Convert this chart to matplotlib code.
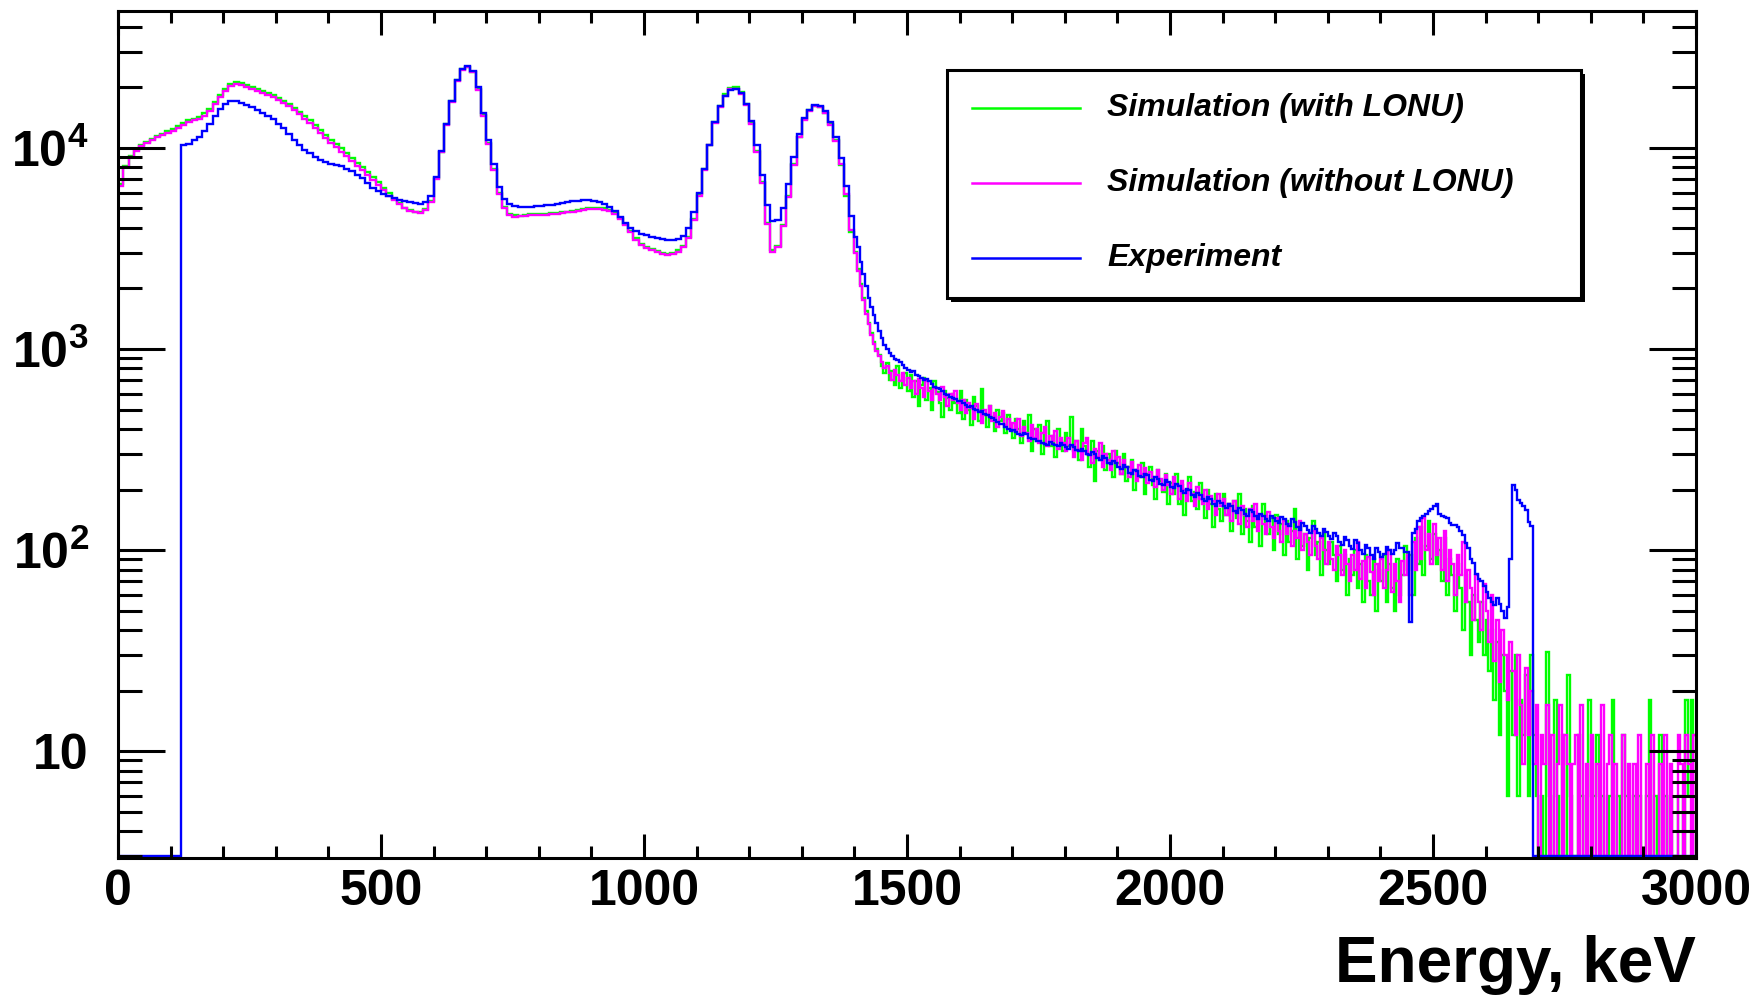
import numpy as np
import matplotlib
matplotlib.use("Agg")
import matplotlib.pyplot as plt
from matplotlib.ticker import FixedLocator, MultipleLocator, LogLocator, NullFormatter
from matplotlib.patches import Rectangle
from matplotlib.lines import Line2D

# ---------------- data (counts per bin) -------------
# 0-1400 keV in 10 keV bins, 1400-3000 keV in 5 keV bins
low_bin_width_kev = 10
high_bin_width_kev = 5
split_energy_kev = 1400
energy_max_kev = 3000

sim_with_lonu_low = [
    6600, 8100, 9100, 9800, 10300, 10700, 11100, 11500, 11800, 12100,
    12400, 12900, 13300, 13700, 14000, 14300, 14900, 15700, 16900, 18400,
    19700, 20700, 21200, 21000, 20500, 20100, 19700, 19200, 18800, 18300,
    17700, 17100, 16500, 15800, 15100, 14400, 13700, 13000, 12300, 11600,
    11000, 10500, 9950, 9450, 8900, 8450, 8000, 7600, 7150, 6750,
    6300, 5950, 5600, 5300, 5050, 4900, 4800, 4780, 4950, 5450,
    7100, 9600, 13100, 17200, 21700, 24800, 25400, 23900, 19600, 14600,
    10600, 7900, 6000, 5100, 4700, 4620, 4600, 4650, 4680, 4700,
    4720, 4700, 4740, 4760, 4800, 4820, 4880, 4920, 4980, 5000,
    5000, 5020, 5000, 4900, 4750, 4500, 4200, 3850, 3560, 3340,
    3220, 3140, 3060, 3000, 2980, 3000, 3100, 3250, 3600, 4450,
    5900, 7900, 10400, 13400, 16200, 18500, 19900, 20100, 18900, 16600,
    13300, 9700, 6800, 4250, 3100, 3250, 4150, 5800, 8300, 11400,
    13900, 15400, 16200, 16000, 15000, 13100, 10900, 8200, 5800, 3800,
]
sim_with_lonu_high = [
    3050, 2500, 2100, 1800, 1550, 1350, 1200, 1080, 1000, 930, 820, 760, 850, 700, 780, 660, 820, 640, 700, 760,
    620, 740, 580, 690, 520, 660, 720, 560, 640, 500, 690, 610, 540, 460, 620, 570, 500, 600, 540, 480,
    620, 450, 560, 500, 420, 580, 520, 440, 630, 470, 410, 520, 460, 390, 500, 440, 480, 380, 470, 420,
    360, 450, 400, 340, 440, 380, 470, 310, 400, 350, 420, 300, 380, 440, 330, 370, 290, 400, 350, 310,
    380, 330, 460, 310, 350, 280, 400, 330, 300, 260, 350, 220, 310, 280, 330, 250, 300, 270, 230, 310,
    270, 240, 300, 220, 260, 280, 200, 250, 230, 270, 190, 240, 260, 210, 180, 250, 220, 195, 240, 170,
    215, 190, 240, 170, 210, 150, 200, 230, 175, 195, 160, 215, 180, 145, 200, 170, 130, 190, 160, 140,
    190, 150, 170, 125, 175, 145, 190, 120, 160, 140, 110, 165, 130, 150, 105, 170, 135, 120, 145, 100,
    150, 120, 135, 95, 140, 110, 125, 160, 90, 130, 105, 120, 80, 115, 140, 95, 110, 75, 120, 100,
    85, 110, 95, 70, 105, 80, 95, 60, 90, 75, 100, 65, 85, 55, 95, 70, 60, 90, 50, 80,
    70, 95, 55, 85, 65, 50, 90, 60, 75, 105, 80, 95, 60, 115, 85, 130, 75, 105, 140, 90,
    120, 85, 100, 70, 115, 60, 90, 75, 50, 85, 65, 40, 75, 55, 30, 60, 45, 35, 55, 30,
    45, 25, 40, 18, 35, 12, 30, 20, 6, 25, 12, 30, 6, 18, 12, 24, 6, 30, 12, 6,
    3, 6, 3, 31, 6, 3, 18, 6, 3, 12, 3, 24, 6, 3, 3, 12, 6, 3, 6, 18,
    3, 6, 12, 3, 6, 3, 3, 6, 18, 3, 6, 3, 12, 6, 3, 3, 6, 3, 6, 3,
    3, 6, 18, 3, 6, 3, 12, 3, 6, 3, 6, 3, 3, 6, 6, 3, 18, 6, 18, 12,
]

sim_without_lonu_low = [
    6500, 8000, 9000, 9700, 10200, 10600, 11000, 11300, 11600, 11900,
    12200, 12600, 13000, 13400, 13700, 14000, 14500, 15300, 16500, 18000,
    19300, 20300, 20800, 20600, 20100, 19700, 19300, 18800, 18400, 17900,
    17300, 16700, 16100, 15400, 14700, 14000, 13300, 12600, 11900, 11200,
    10600, 10100, 9600, 9100, 8600, 8150, 7750, 7350, 6950, 6550,
    6150, 5800, 5500, 5250, 5000, 4880, 4780, 4750, 4900, 5400,
    7000, 9500, 13000, 17000, 21500, 24500, 25200, 23800, 19500, 14500,
    10500, 7800, 5900, 5000, 4650, 4550, 4580, 4600, 4620, 4640,
    4650, 4660, 4680, 4700, 4740, 4780, 4830, 4880, 4930, 4950,
    4950, 4950, 4920, 4850, 4700, 4450, 4150, 3800, 3500, 3300,
    3180, 3100, 3030, 2970, 2940, 2960, 3050, 3200, 3550, 4400,
    5800, 7800, 10300, 13300, 16000, 18200, 19600, 19700, 18600, 16400,
    13200, 9600, 6700, 4200, 3050, 3200, 4100, 5700, 8200, 11300,
    13800, 15300, 16100, 15900, 14900, 13000, 10800, 8300, 5900, 3900,
]
sim_without_lonu_high = [
    3000, 2450, 2050, 1750, 1500, 1330, 1180, 1060, 980, 920, 860, 800, 820, 760, 700, 790, 740, 690, 760, 660,
    720, 640, 690, 600, 710, 640, 580, 690, 620, 560, 640, 600, 560, 650, 580, 520, 600, 560, 620, 540,
    500, 560, 480, 540, 510, 450, 530, 490, 430, 500, 470, 520, 440, 480, 410, 460, 490, 420, 450, 400,
    430, 390, 450, 370, 410, 380, 350, 420, 360, 400, 340, 380, 410, 330, 370, 350, 390, 320, 360, 340,
    310, 360, 330, 290, 350, 315, 280, 340, 360, 300, 270, 320, 290, 340, 260, 300, 280, 250, 310, 270,
    290, 240, 280, 260, 230, 275, 250, 220, 265, 240, 255, 215, 245, 230, 205, 250, 225, 200, 235, 210,
    190, 230, 210, 180, 220, 200, 175, 215, 190, 165, 205, 180, 170, 200, 160, 185, 175, 150, 190, 165,
    180, 150, 170, 140, 175, 155, 135, 165, 150, 130, 160, 140, 170, 125, 150, 135, 120, 155, 130, 115,
    145, 125, 110, 140, 120, 135, 105, 125, 115, 140, 100, 120, 110, 95, 125, 105, 90, 115, 100, 85,
    110, 90, 80, 105, 95, 75, 100, 85, 70, 95, 80, 110, 72, 88, 65, 92, 78, 60, 85, 70,
    90, 65, 80, 100, 62, 85, 70, 55, 88, 75, 95, 60, 110, 80, 130, 90, 145, 100, 120, 85,
    135, 95, 115, 80, 125, 70, 100, 85, 60, 95, 75, 110, 55, 80, 65, 45, 75, 55, 40, 68,
    50, 35, 60, 28, 45, 22, 40, 30, 18, 35, 25, 12, 30, 17, 8.6, 26, 12, 20, 8.6, 17,
    3, 12, 8.6, 17, 3, 12, 3, 8.6, 17, 3, 12, 8.6, 3, 8.6, 12, 3, 17, 3, 8.6, 3,
    12, 3, 8.6, 3, 17, 3, 8.6, 12, 3, 8.6, 3, 3, 12, 3, 8.6, 3, 8.6, 3, 12, 3,
    3, 8.6, 3, 12, 3, 3, 8.6, 3, 12, 3, 8.6, 3, 3, 12, 8.6, 3, 12, 8.6, 3, 12,
]

experiment_low = [
    3, 3, 3, 3, 3, 3, 3, 3, 3, 3,
    3, 3, 10300, 10500, 10900, 11300, 12100, 13200, 14500, 15700,
    16600, 17100, 17200, 16800, 16300, 15900, 15500, 15000, 14500, 13900,
    13200, 12500, 11800, 11000, 10300, 9800, 9400, 9000, 8700, 8500,
    8350, 8250, 8100, 7900, 7650, 7350, 7050, 6700, 6350, 6100,
    5900, 5750, 5620, 5530, 5470, 5400, 5300, 5280, 5400, 5800,
    7200, 9700, 13200, 17200, 21700, 24800, 25500, 24200, 20000, 15000,
    11000, 8300, 6400, 5600, 5250, 5150, 5100, 5080, 5100, 5130,
    5160, 5200, 5230, 5280, 5330, 5370, 5420, 5450, 5500, 5500,
    5450, 5380, 5280, 5100, 4850, 4550, 4250, 4000, 3850, 3750,
    3680, 3620, 3570, 3540, 3500, 3490, 3530, 3650, 4000, 4800,
    6000, 7900, 10400, 13400, 16100, 18200, 19500, 19700, 18700, 16600,
    13600, 10400, 7300, 5200, 4350, 4400, 5000, 6600, 9000, 11800,
    14100, 15500, 16300, 16100, 15200, 13500, 11400, 8900, 6500, 4600,
]
experiment_high = [
    3600, 3200, 2700, 2350, 2050, 1800, 1620, 1480, 1350, 1230, 1130, 1050, 1000, 950, 920, 890, 880, 860, 830, 800,
    790, 770, 775, 745, 735, 720, 700, 710, 690, 670, 650, 640, 635, 620, 600, 590, 580, 570, 565, 552,
    550, 540, 525, 515, 520, 505, 495, 485, 490, 475, 470, 460, 455, 445, 432, 425, 422, 410, 400, 392,
    395, 388, 378, 372, 380, 376, 362, 355, 356, 348, 350, 340, 338, 333, 345, 338, 332, 328, 340, 335,
    325, 320, 332, 326, 315, 310, 318, 312, 302, 298, 308, 300, 288, 282, 292, 286, 272, 268, 278, 272,
    258, 252, 264, 258, 242, 238, 250, 246, 234, 230, 240, 236, 224, 220, 230, 226, 214, 210, 222, 218,
    206, 203, 212, 208, 196, 193, 202, 198, 187, 184, 192, 188, 179, 176, 184, 180, 170, 166, 176, 172,
    165, 161, 170, 166, 157, 153, 162, 158, 152, 148, 158, 154, 147, 143, 152, 148, 143, 139, 148, 144,
    140, 136, 146, 142, 135, 131, 142, 138, 130, 126, 136, 132, 126, 122, 132, 128, 122, 118, 127, 123,
    117, 113, 122, 118, 110, 106, 116, 112, 105, 101, 112, 108, 100, 96, 106, 102, 94, 90, 102, 98,
    92, 96, 104, 100, 96, 100, 108, 102, 102, 98, 98, 44, 122, 128, 140, 144, 148, 152, 156, 160,
    166, 170, 152, 148, 146, 144, 137, 133, 134, 130, 125, 119, 108, 102, 90, 86, 76, 72, 70, 66,
    62, 58, 55, 53, 58, 54, 50, 46, 52, 90, 210, 200, 178, 172, 165, 159, 138, 132, 3, 3,
    3, 3, 3, 3, 3, 3, 3, 3, 3, 3, 3, 3, 3, 3, 3, 3, 3, 3, 3, 3,
    3, 3, 3, 3, 3, 3, 3, 3, 3, 3, 3, 3, 3, 3, 3, 3, 3, 3, 3, 3,
    3, 3, 3, 3, 3, 3, 3, 3, 3, 3, 3, 3, 3, 3, 3, 3, 3, 3, 3, 3,
]

series_labels = ["Simulation (with LONU)", "Simulation (without LONU)", "Experiment"]
series_colors = ["#00ff00", "#ff00ff", "#0000ff"]

xtick_values = [0, 500, 1000, 1500, 2000, 2500, 3000]
xtick_labels = ["0", "500", "1000", "1500", "2000", "2500", "3000"]
ytick_values = [10, 100, 1000, 10000]
ytick_labels = ["10", r"$\mathbf{10^{2}}$", r"$\mathbf{10^{3}}$", r"$\mathbf{10^{4}}$"]
x_label = "Energy, keV"

# ---------------- figure ----------------
plt.rcParams["font.family"] = ["Liberation Sans", "DejaVu Sans"]
plt.rcParams["mathtext.fontset"] = "custom"
plt.rcParams["mathtext.rm"] = "Liberation Sans"
plt.rcParams["mathtext.bf"] = "Liberation Sans:bold"
plt.rcParams["mathtext.it"] = "Liberation Sans:italic"

W, H = 1758, 998
fig = plt.figure(figsize=(W / 100, H / 100), dpi=100)
L, R, T, B = 118, 1696, 11, 858
ax = fig.add_axes([L / W, 1 - B / H, (R - L) / W, (B - T) / H])

edges = np.concatenate([
    np.arange(0, split_energy_kev, low_bin_width_kev),
    np.arange(split_energy_kev, energy_max_kev + high_bin_width_kev, high_bin_width_kev),
])
series = [
    sim_with_lonu_low + sim_with_lonu_high,
    sim_without_lonu_low + sim_without_lonu_high,
    experiment_low + experiment_high,
]
for vals, col in zip(series, series_colors):
    ax.stairs(vals, edges, color=col, linewidth=1.7, baseline=1.0, fill=False)

ax.set_yscale("log")
ax.set_xlim(0, 3000)
ax.set_ylim(2.94, 48000)

ax.xaxis.set_major_locator(FixedLocator(xtick_values))
ax.set_xticklabels(xtick_labels)
ax.xaxis.set_minor_locator(MultipleLocator(100))
ax.yaxis.set_major_locator(FixedLocator(ytick_values))
ax.set_yticklabels(ytick_labels)
ax.yaxis.set_minor_locator(LogLocator(base=10, subs=np.arange(2, 10)))
ax.yaxis.set_minor_formatter(NullFormatter())

lw_px = 2.2
ax.tick_params(axis="both", which="both", direction="in", top=True, right=True,
               width=lw_px, color="black")
ax.tick_params(axis="x", which="major", length=17.3, pad=8, labelsize=36)
ax.tick_params(axis="x", which="minor", length=8.6)
ax.tick_params(axis="y", which="major", length=34, pad=21, labelsize=36)
ax.tick_params(axis="y", which="minor", length=17)
for lab in ax.get_xticklabels() + ax.get_yticklabels():
    lab.set_fontweight("bold")
for sp in ax.spines.values():
    sp.set_linewidth(lw_px)

fig.text(1696 / W, 1 - 982 / H, x_label, ha="right", va="baseline",
         fontsize=46, fontweight="bold")

# ---------------- legend (ROOT style box with shadow) ----------------
def fx(px):
    return px / W

def fy(py):
    return 1 - py / H

bx0, by0, bx1, by1 = 947, 70, 1581, 298
sh = 4
fig.add_artist(Rectangle((fx(bx0 + sh), fy(by1 + sh)), fx(bx1 - bx0), (by1 - by0) / H,
                         transform=fig.transFigure, facecolor="black", edgecolor="black",
                         linewidth=0, zorder=5))
fig.add_artist(Rectangle((fx(bx0), fy(by1)), fx(bx1 - bx0), (by1 - by0) / H,
                         transform=fig.transFigure, facecolor="white", edgecolor="black",
                         linewidth=lw_px, zorder=6))
entry_y = [108, 183, 258]
for lab, col, yy in zip(series_labels, series_colors, entry_y):
    fig.add_artist(Line2D([fx(972), fx(1080)], [fy(yy), fy(yy)], transform=fig.transFigure,
                          color=col, linewidth=1.8, zorder=7))
    fig.text(fx(1107), fy(yy), lab, ha="left", va="center", fontsize=23,
             fontweight="bold", fontstyle="italic", zorder=7)

fig.savefig("out.png", dpi=100, facecolor="white")
